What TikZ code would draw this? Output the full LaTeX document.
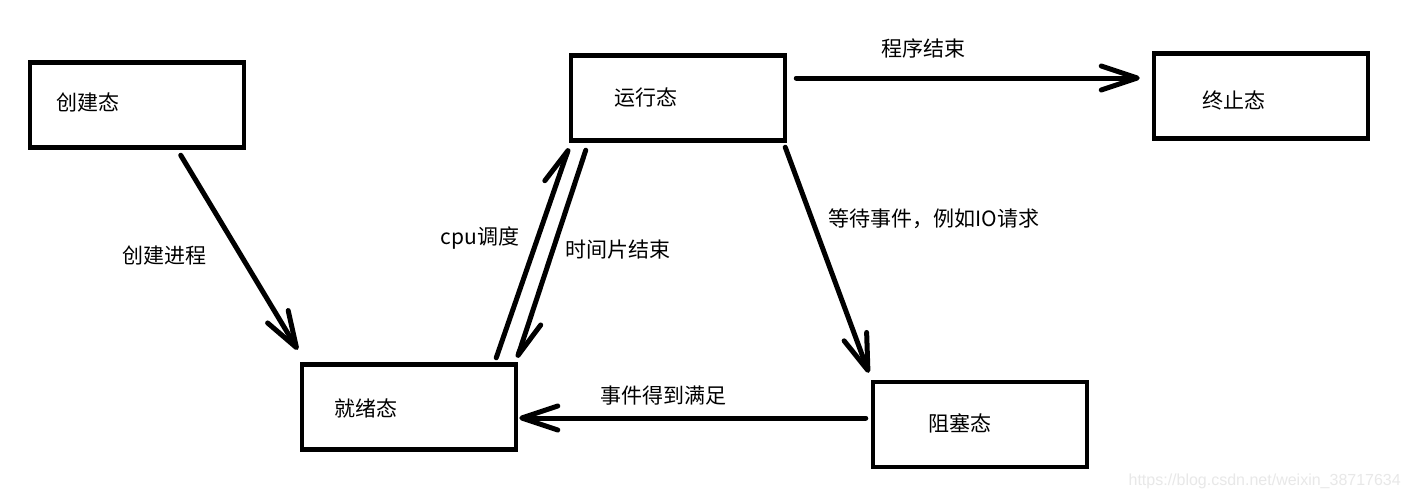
\documentclass[tikz,border=0pt]{standalone}
\usepackage{fontspec}
\setmainfont{Noto Sans CJK SC}
\newfontfamily\wmfont{Liberation Sans}
\usetikzlibrary{arrows.meta,calc}
\tikzset{
  statebox/.style={draw, line width=4.5pt, minimum width=214pt, minimum height=85pt, inner sep=0pt},
  stxt/.style={font=\fontsize{21}{24}\selectfont, inner sep=0pt},
  lbl/.style={font=\fontsize{21}{24}\selectfont, inner sep=0pt},
  arr/.style={line width=5pt, line cap=round, -{Straight Barb[length=36pt,width=24pt,round]}},
  arrl/.style={line width=5pt, line cap=round, -{Straight Barb[length=36pt,width=24pt,round,left]}},
  arrr/.style={line width=5pt, line cap=round, -{Straight Barb[length=36pt,width=24pt,round,right]}},
}
\begin{document}
\begin{tikzpicture}[x=1pt,y=-1pt]
\useasboundingbox[fill=white] (0,0) rectangle (1411,499);
% boxes
\node[statebox] (A) at (137,105) {};
\node[statebox] (R) at (678,98) {};
\node[statebox] (T) at (1261,96) {};
\node[statebox] (Y) at (409,407) {};
\node[statebox] (B) at (980,424.5) {};
% box texts
\node[stxt] (tA) at (88,102) {创建态};
\node[stxt] (tR) at (646,98) {运行态};
\node[stxt] (tT) at (1234,100) {终止态};
\node[stxt] (tY) at (366,408) {就绪态};
\node[stxt] (tB) at (960,423) {阻塞态};
% connectors
\draw[arr] ($(A.south west)+(153,5.5)$) -- ($(Y.north west)+(-2,-12.5)$);
\draw[arrl] ($(Y.north east)+(-22,-4.5)$) -- ($(R.south west)+(0,5.5)$);
\draw[arrl] ($(R.south west)+(17,7.5)$) -- ($(Y.north east)+(-1,-4.5)$);
\draw[arr] ($(R.east)+(9,-20)$) -- ($(T.west)+(-12,-18)$);
\draw[arr] ($(R.south east)+(-2,4.5)$) -- ($(B.north west)+(-2,-7)$);
\draw[arr] ($(B.west)+(-5,-6.5)$) -- ($(Y.east)+(1,11)$);
% labels
\node[lbl] (l1) at (164.5,256) {创建进程};
\node[lbl] (l2) at (480,238) {cpu调度};
\node[lbl] (l3) at (618,250) {时间片结束};
\node[lbl] (l4) at (923,48) {程序结束};
\node[lbl] (l5) at (934,219) {等待事件，例如IO请求};
\node[lbl] (l6) at (663,396) {事件得到满足};
\node[anchor=east, inner sep=0pt, text=black!9, font=\wmfont\fontsize{16}{18}\selectfont] (wm) at (1401,481) {https://blog.csdn.net/weixin\_38717634};
\end{tikzpicture}
\end{document}
